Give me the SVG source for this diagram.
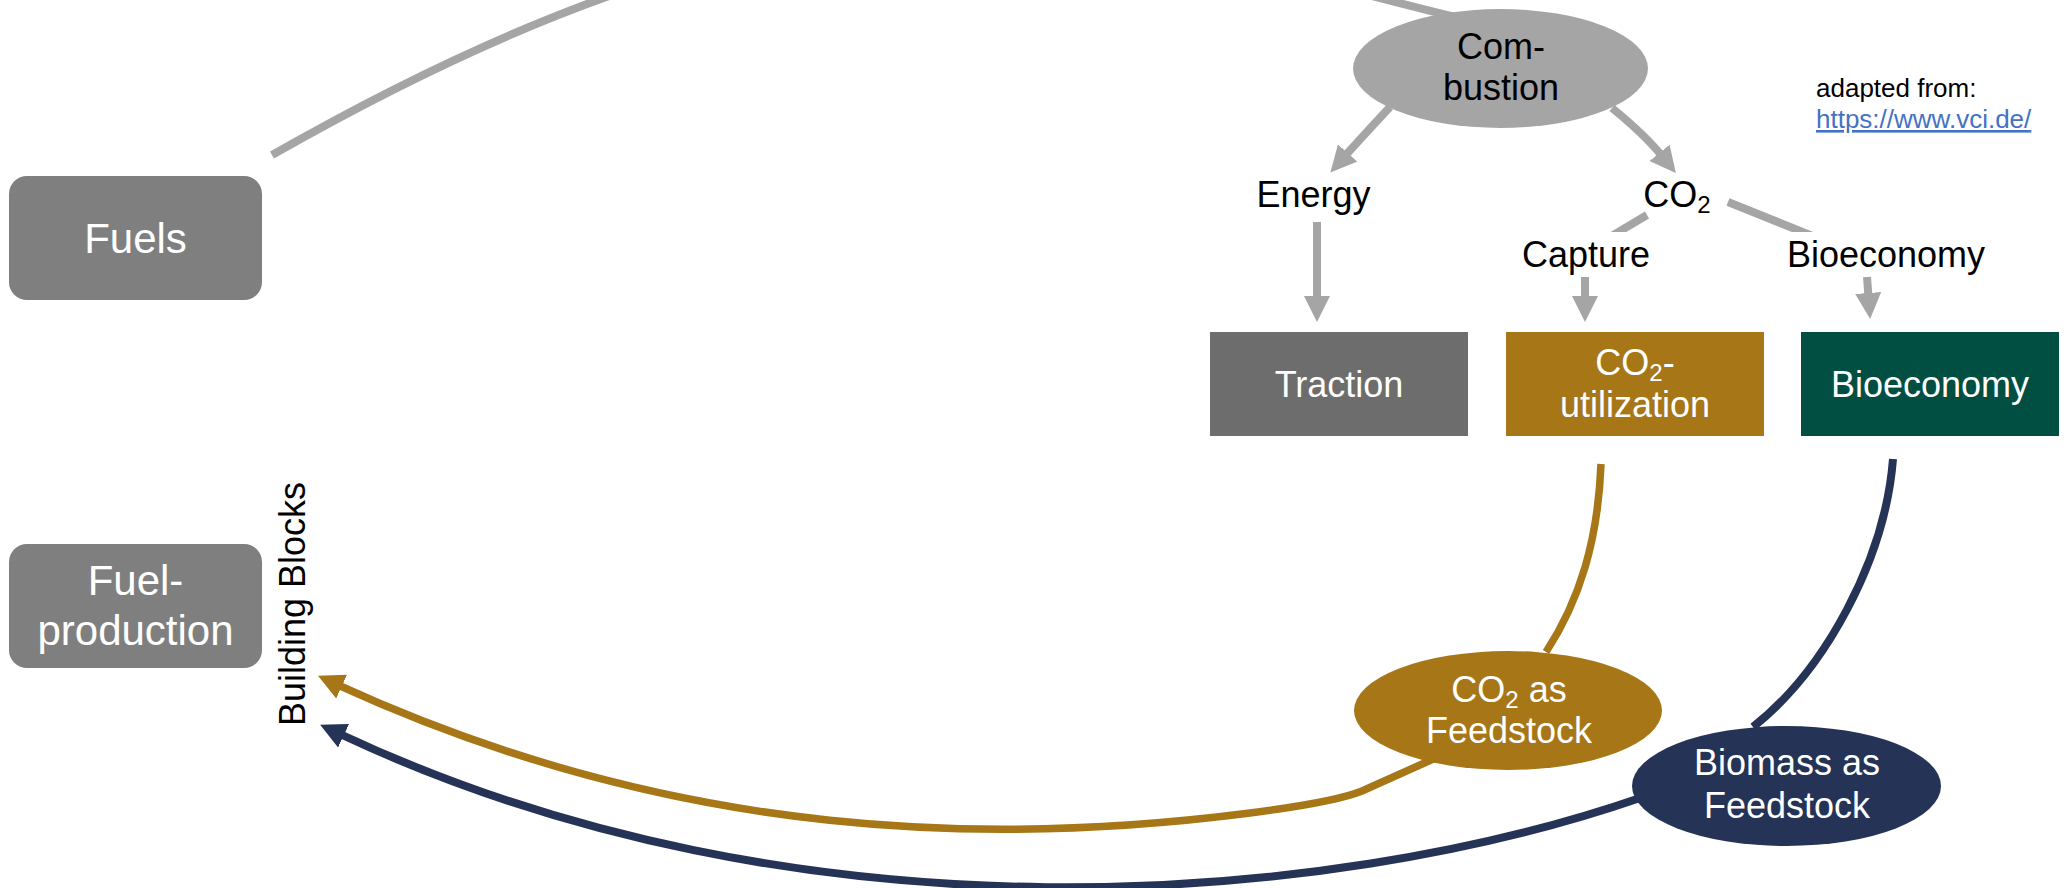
<svg xmlns="http://www.w3.org/2000/svg" width="2065" height="888" viewBox="0 0 2065 888">
<style>
text{font-family:"Liberation Sans",Arial,sans-serif}
.w{fill:#ffffff}
.b{fill:#000000}
.t36{font-size:36px}
.t42{font-size:42px}
.g{fill:none;stroke:#a5a5a5;stroke-width:8}
.au{fill:none;stroke:#a67617;stroke-width:7.5}
.nv{fill:none;stroke:#243356;stroke-width:8}
</style>
<defs>
<marker id="mg" markerUnits="userSpaceOnUse" viewBox="0 0 26 26" markerWidth="26" markerHeight="26" refX="4" refY="13" orient="auto"><path d="M0,0 L26,13 L0,26 z" fill="#a5a5a5"/></marker>
<marker id="ma" markerUnits="userSpaceOnUse" viewBox="0 0 26 26" markerWidth="26" markerHeight="26" refX="4" refY="13" orient="auto"><path d="M0,0 L26,13 L0,26 z" fill="#a67617"/></marker>
<marker id="mn" markerUnits="userSpaceOnUse" viewBox="0 0 26 26" markerWidth="26" markerHeight="26" refX="4" refY="13" orient="auto"><path d="M0,0 L26,13 L0,26 z" fill="#243356"/></marker>
<clipPath id="cut"><rect x="1500" y="190" width="400" height="42"/></clipPath>
</defs>

<g id="connectors">
<path class="g" d="M272,155 C860,-180 1107,-68 1455,17"/>
<path class="g" d="M1390,107 Q1362,137 1345,156" marker-end="url(#mg)"/>
<path class="g" d="M1612,108 Q1645,135 1662,156" marker-end="url(#mg)"/>
<path class="g" d="M1317,222 L1317,300" marker-end="url(#mg)"/>
<path class="g" d="M1647,215 L1605,240" clip-path="url(#cut)"/>
<path class="g" d="M1728,202 L1820,239" clip-path="url(#cut)"/>
<path class="g" d="M1585,277 L1585,300" marker-end="url(#mg)"/>
<path class="g" d="M1867,277 L1868.5,297" marker-end="url(#mg)"/>
<path class="au" d="M1601,464 C1598,540 1580,600 1546,652"/>
<path class="au" d="M1440,756 L1362,791 Q1335,802 1250,813 C1000,845 683,843 338,685" marker-end="url(#ma)"/>
<path class="nv" d="M1893,459 C1885,560 1825,670 1753,727"/>
<path class="nv" d="M1640,798 C1330,905 800,950 340,734" marker-end="url(#mn)"/>
</g>

<g id="fuels">
<rect x="9" y="176" width="253" height="124" rx="18" fill="#7f7f7f"/>
<text class="w t42" x="135.5" y="253" text-anchor="middle">Fuels</text>
</g>

<g id="fuel-production">
<rect x="9" y="544" width="253" height="124" rx="18" fill="#7f7f7f"/>
<text class="w t42" x="135.5" y="595" text-anchor="middle">Fuel-</text>
<text class="w t42" x="135.5" y="645" text-anchor="middle">production</text>
</g>

<g id="building-blocks">
<text class="b t36" transform="translate(305,604) rotate(-90)" text-anchor="middle">Building Blocks</text>
</g>

<g id="combustion">
<ellipse cx="1500.5" cy="68.5" rx="147.5" ry="59.5" fill="#a5a5a5"/>
<text class="b t36" x="1501" y="59" text-anchor="middle">Com-</text>
<text class="b t36" x="1501" y="100" text-anchor="middle">bustion</text>
</g>

<g id="energy">
<text class="b t36" x="1313.5" y="207" text-anchor="middle">Energy</text>
</g>

<g id="co2">
<text class="b t36" x="1677" y="207" text-anchor="middle">CO<tspan font-size="24" dy="6">2</tspan></text>
</g>

<g id="capture">
<text class="b t36" x="1586" y="267" text-anchor="middle">Capture</text>
</g>

<g id="bioeconomy-label">
<text class="b t36" x="1886" y="267" text-anchor="middle">Bioeconomy</text>
</g>

<g id="source">
<text class="b" x="1816" y="97" font-size="26">adapted from:</text>
<text x="1816" y="128" font-size="26" fill="#4472c4" text-decoration="underline">https://www.vci.de/</text>
</g>

<g id="traction">
<rect x="1210" y="332" width="258" height="104" fill="#6d6d6d"/>
<text class="w t36" x="1339" y="397" text-anchor="middle">Traction</text>
</g>

<g id="co2-utilization">
<rect x="1506" y="332" width="258" height="104" fill="#a67617"/>
<text class="w t36" x="1635" y="375" text-anchor="middle">CO<tspan font-size="24" dy="6">2</tspan><tspan dy="-6">-</tspan></text>
<text class="w t36" x="1635" y="417" text-anchor="middle">utilization</text>
</g>

<g id="bioeconomy">
<rect x="1801" y="332" width="258" height="104" fill="#014e42"/>
<text class="w t36" x="1930" y="397" text-anchor="middle">Bioeconomy</text>
</g>

<g id="co2-feedstock">
<ellipse cx="1508" cy="710.5" rx="154" ry="59.5" fill="#a67617"/>
<text class="w t36" x="1509" y="702" text-anchor="middle">CO<tspan font-size="24" dy="6">2</tspan><tspan dy="-6"> as</tspan></text>
<text class="w t36" x="1509" y="743" text-anchor="middle">Feedstock</text>
</g>

<g id="biomass-feedstock">
<ellipse cx="1786.5" cy="786" rx="154.5" ry="60" fill="#243356"/>
<text class="w t36" x="1787" y="775" text-anchor="middle">Biomass as</text>
<text class="w t36" x="1787" y="818" text-anchor="middle">Feedstock</text>
</g>
</svg>
